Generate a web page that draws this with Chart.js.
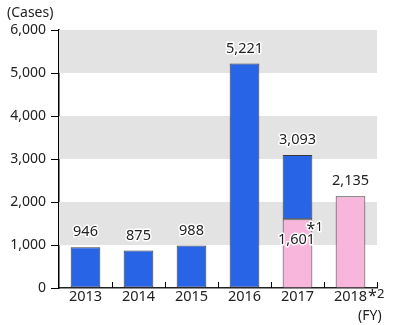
<!DOCTYPE html>
<html>
<head>
<meta charset="utf-8">
<script src="https://cdn.jsdelivr.net/npm/chart.js"></script>
<style>
  html, body { margin: 0; padding: 0; background: #fff; }
  #wrap { position: relative; width: 400px; height: 325px; }
</style>
</head>
<body>
<div id="wrap"><canvas id="cases" width="400" height="325"></canvas></div>
<script>
// fiscal years on the x axis
const years = ['2013', '2014', '2015', '2016', '2017', '2018'];
// total cases per year (old counting)
const totalCases = [946, 875, 988, 5221, 3093, null];
// cases under the new counting (pink)
const newCases = [null, null, null, null, 1601, 2135];
const yTicks = [0, 1000, 2000, 3000, 4000, 5000, 6000];

// blue part sits on top of the pink part
const oldPart = totalCases.map((t, i) => t == null ? null : t - (newCases[i] || 0));

const FONT = '"Noto Sans", "Open Sans", sans-serif';
const BLUE = '#2864E6';
const PINK = '#F8B6DD';
const EDGE = '#3a3a3a';

function haloText(ctx, text, x, y) {
  ctx.lineWidth = 3;
  ctx.strokeStyle = '#fff';
  ctx.lineJoin = 'round';
  ctx.strokeText(text, x, y);
  ctx.fillStyle = '#222';
  ctx.fillText(text, x, y);
}

// grey bands behind the bars
const bands = {
  id: 'bands',
  beforeDatasetsDraw(chart) {
    const { ctx, chartArea: a, scales: { y } } = chart;
    ctx.save();
    ctx.fillStyle = '#E3E3E3';
    for (const lo of [1000, 3000, 5000]) {
      const top = y.getPixelForValue(lo + 1000);
      const bot = y.getPixelForValue(lo);
      ctx.fillRect(a.left, top, a.right - a.left, bot - top);
    }
    ctx.restore();
  }
};

// value labels, small x ticks and notes
const extras = {
  id: 'extras',
  afterDraw(chart) {
    const { ctx, chartArea: a, scales: { x, y } } = chart;
    ctx.save();
    // short upward ticks between categories
    ctx.strokeStyle = '#000';
    ctx.lineWidth = 1;
    const step = x.getPixelForValue(1) - x.getPixelForValue(0);
    for (let i = 0; i < years.length; i++) {
      const xx = Math.round(x.getPixelForValue(i) + step / 2) + 0.5;
      ctx.beginPath();
      ctx.moveTo(xx, a.bottom);
      ctx.lineTo(xx, a.bottom - 6);
      ctx.stroke();
    }

    ctx.font = '14.5px ' + FONT;
    ctx.textAlign = 'center';
    ctx.textBaseline = 'middle';
    years.forEach((yr, i) => {
      const cx = x.getPixelForValue(i);
      const t = totalCases[i] != null ? totalCases[i] : newCases[i];
      haloText(ctx, t.toLocaleString('en-US'), cx, y.getPixelForValue(t) - 15);
    });
    // pink value inside the 2017 bar
    const c17 = x.getPixelForValue(4);
    const p17 = y.getPixelForValue(newCases[4]);
    haloText(ctx, newCases[4].toLocaleString('en-US'), c17 - 1, p17 + 21);
    ctx.textAlign = 'left';
    ctx.font = '16px ' + FONT;
    haloText(ctx, '*', c17 + 9, p17 + 10);
    ctx.font = '13px ' + FONT;
    haloText(ctx, '1', c17 + 18, p17 + 8);

    // notes
    ctx.fillStyle = '#222';
    ctx.font = '16px ' + FONT;
    ctx.fillText('*', a.right - 9, 296);
    ctx.font = '13px ' + FONT;
    ctx.fillText('2', a.right, 294);
    ctx.font = '14px ' + FONT;
    ctx.fillText('(FY)', a.right - 19, 316);
    ctx.fillText('(Cases)', 7, 13);
    ctx.restore();
  }
};

new Chart(document.getElementById('cases'), {
  type: 'bar',
  data: {
    labels: years,
    datasets: [
      {
        label: 'new',
        data: newCases,
        backgroundColor: PINK,
        borderColor: EDGE,
        borderWidth: 1,
        borderSkipped: 'bottom',
        barPercentage: 0.56,
        categoryPercentage: 1
      },
      {
        label: 'old',
        data: oldPart,
        backgroundColor: BLUE,
        borderColor: EDGE,
        borderWidth: 1,
        borderSkipped: false,
        barPercentage: 0.56,
        categoryPercentage: 1
      }
    ]
  },
  options: {
    responsive: false,
    animation: false,
    devicePixelRatio: 1,
    layout: { padding: { top: 30, right: 23, left: 0, bottom: 0 } },
    plugins: { legend: { display: false }, tooltip: { enabled: false } },
    scales: {
      x: {
        stacked: true,
        grid: { display: false, drawTicks: false },
        border: { display: true, color: '#222', width: 1.5 },
        ticks: { color: '#222', font: { family: FONT, size: 14.5 }, padding: 0, maxRotation: 0, autoSkip: false },
        afterFit(s) { s.height = 37; }
      },
      y: {
        stacked: true,
        min: 0,
        max: 6000,
        afterBuildTicks(s) { s.ticks = yTicks.map(v => ({ value: v })); },
        grid: { drawOnChartArea: false, drawTicks: true, tickLength: 8, tickColor: '#000' },
        border: { display: true, color: '#000', width: 1.5 },
        ticks: {
          color: '#222',
          font: { family: FONT, size: 14 },
          padding: 5,
          callback: v => v.toLocaleString('en-US')
        },
        afterFit(s) { s.width = 59; }
      }
    }
  },
  plugins: [bands, extras]
});
</script>
</body>
</html>
